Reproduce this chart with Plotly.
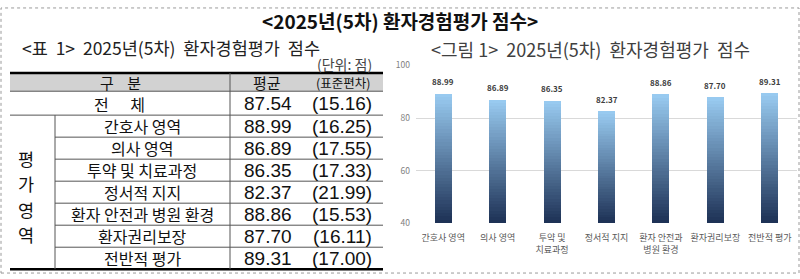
import plotly.graph_objects as go

# ---------------- data ----------------
table_rows = ["간호사 영역", "의사 영역", "투약 및 치료과정", "정서적 지지",
              "환자 안전과 병원 환경", "환자권리보장", "전반적 평가"]
table_total_label = "전      체"
total_mean = "87.54"
total_sd = "(15.16)"
means = [88.99, 86.89, 86.35, 82.37, 88.86, 87.70, 89.31]
sds = [16.25, 17.55, 17.33, 21.99, 15.53, 16.11, 17.00]
chart_labels = ["간호사 영역", "의사 영역", "투약 및<br>치료과정", "정서적 지지",
                "환자 안전과<br>병원 환경", "환자권리보장", "전반적 평가"]
group_label = ["평", "가", "영", "역"]
y_ticks = [40, 60, 80, 100]

W, H = 800, 279
FONT = "Noto Sans CJK KR"
NUMFONT = "Liberation Sans"


def X(px):
    return px / W


def Y(py):
    return 1 - py / H


fig = go.Figure()

# ---------------- bars (gradient via overlaid bars) ----------------
N = 40
top_c = (152, 202, 240)
bot_c = (30, 50, 86)
base_v = y_ticks[0]
for i in range(N):
    t = i / (N - 1)
    c = tuple(round(top_c[k] + (bot_c[k] - top_c[k]) * t) for k in range(3))
    frac = (N - i) / N
    fig.add_trace(go.Bar(
        x=chart_labels,
        y=[(v - base_v) * frac for v in means],
        base=[base_v] * len(means),
        width=0.31,
        marker=dict(color="rgb(%d,%d,%d)" % c, line=dict(width=0)),
        hoverinfo="skip",
        showlegend=False,
    ))

fig.update_layout(
    width=W, height=H,
    margin=dict(l=0, r=0, t=0, b=0),
    paper_bgcolor="white", plot_bgcolor="white",
    barmode="overlay",
    bargap=0,
    font=dict(family=FONT),
    xaxis=dict(domain=[X(416), X(797)], showgrid=False, showline=False,
               ticks="", tickfont=dict(size=9, color="#595959", family=FONT),
               ticklabelstandoff=8, fixedrange=True),
    yaxis=dict(domain=[Y(226), Y(61)], range=[40, 100], tickvals=y_ticks,
               showgrid=True, gridcolor="#d9d9d9", gridwidth=1,
               zeroline=False, showline=False, ticks="",
               tickfont=dict(size=8.5, color="#808080", family=FONT),
               ticklabelstandoff=5),
)

shapes = []
ann = []

# data labels above bars
for lab, v in zip(chart_labels, means):
    ann.append(dict(text="<b>%.2f</b>" % v, x=lab, y=v, xref="x", yref="y",
                    showarrow=False, yanchor="bottom", yshift=5,
                    font=dict(size=8, color="#404040", family=FONT)))


def txt(s, x, y, font, anchor="center"):
    ann.append(dict(text=s, x=X(x), y=Y(y), xref="paper", yref="paper",
                    showarrow=False, xanchor=anchor, yanchor="middle",
                    borderpad=0, font=font))


# border
shapes.append(dict(type="rect", xref="paper", yref="paper", x0=X(1), x1=X(799),
                   y0=Y(278), y1=Y(1), line=dict(color="#9a9a9a", width=1, dash="dot")))

# titles
txt("<b><2025년(5차) 환자경험평가 점수></b>", 400, 14,
    dict(size=19, color="#111111", family=FONT))
txt("<그림 1>  2025년(5차)  환자경험평가  점수", 590, 44,
    dict(size=18, color="#404040", family=FONT))
txt("<표  1>  2025년(5차)  환자경험평가  점수", 21, 42,
    dict(size=17.5, color="#222222", family=FONT), anchor="left")
txt("(단위: 점)", 373, 60, dict(size=14, color="#444444", family=FONT), anchor="right")

# table geometry
L, R = 10, 383
top, hdr_b, tot_b = 69, 88, 113
bottom = 274
row_h = (bottom - tot_b) / len(table_rows)
col1, col2 = 55, 230

shapes.append(dict(type="rect", xref="paper", yref="paper", x0=X(L), x1=X(R),
                   y0=Y(hdr_b), y1=Y(top), fillcolor="#d2d2d2", line=dict(width=0)))
shapes.append(dict(type="line", xref="paper", yref="paper", x0=X(L), x1=X(R),
                   y0=Y(top), y1=Y(top), line=dict(color="#000000", width=2.5)))
shapes.append(dict(type="line", xref="paper", yref="paper", x0=X(L), x1=X(R),
                   y0=Y(bottom), y1=Y(bottom), line=dict(color="#000000", width=2.5)))
shapes.append(dict(type="line", xref="paper", yref="paper", x0=X(L), x1=X(R),
                   y0=Y(hdr_b), y1=Y(hdr_b), line=dict(color="#555555", width=1)))
shapes.append(dict(type="line", xref="paper", yref="paper", x0=X(L), x1=X(R),
                   y0=Y(tot_b), y1=Y(tot_b), line=dict(color="#555555", width=1)))
for i in range(1, len(table_rows)):
    yy = tot_b + row_h * i
    shapes.append(dict(type="line", xref="paper", yref="paper", x0=X(col1), x1=X(R),
                       y0=Y(yy), y1=Y(yy), line=dict(color="#555555", width=1)))
shapes.append(dict(type="line", xref="paper", yref="paper", x0=X(col2), x1=X(col2),
                   y0=Y(bottom), y1=Y(top), line=dict(color="#555555", width=1)))
shapes.append(dict(type="line", xref="paper", yref="paper", x0=X(col1), x1=X(col1),
                   y0=Y(bottom), y1=Y(tot_b), line=dict(color="#555555", width=1)))

TF = dict(size=16, color="#111111", family=FONT)
NF = dict(size=19, color="#111111", family=NUMFONT)
cx_name, cx_mean, cx_sd = 142, 268, 342

# header
txt("구    분", 120, 79, dict(size=15, color="#111111", family=FONT))
txt("평균", 267, 79, dict(size=15, color="#111111", family=FONT))
txt("(표준편차)", 343, 79, dict(size=12.5, color="#111111", family=FONT))
# total row
txt(table_total_label, 119, 101, TF)
txt(total_mean, cx_mean, 101, NF)
txt(total_sd, cx_sd, 101, NF)
# sub rows
for i, name in enumerate(table_rows):
    yy = tot_b + row_h * (i + 0.5)
    txt(name, cx_name, yy, TF)
    txt("%.2f" % means[i], cx_mean, yy, NF)
    txt("(%.2f)" % sds[i], cx_sd, yy, NF)
# vertical group label
for i, ch in enumerate(group_label):
    txt(ch, 26, 158 + 26.7 * i, dict(size=17.5, color="#111111", family=FONT))

fig.update_layout(shapes=shapes, annotations=ann)
fig.write_html("out.html")
